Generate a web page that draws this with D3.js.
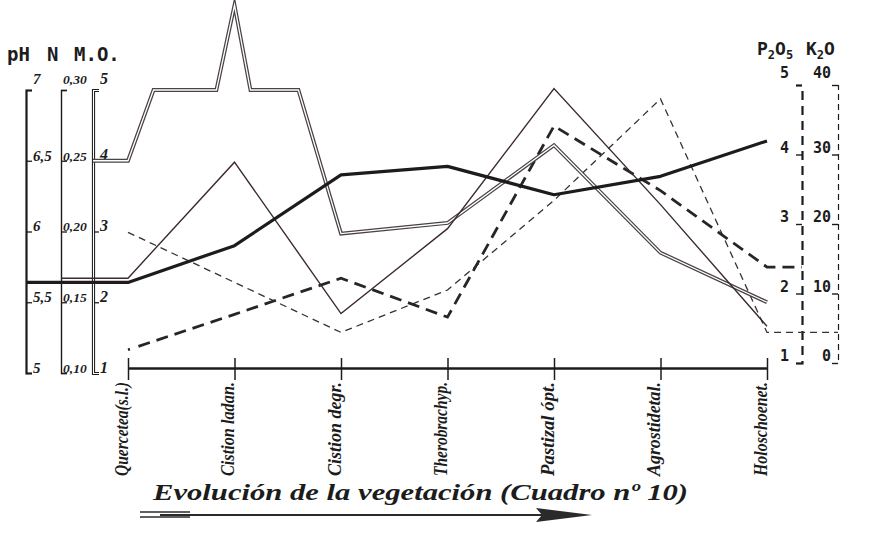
<!DOCTYPE html>
<html>
<head>
<meta charset="utf-8">
<script src="https://cdn.jsdelivr.net/npm/d3@7"></script>
<style>
  body { margin: 0; background: #fff; }
  svg { display: block; }
</style>
</head>
<body>
<svg id="chart" width="869" height="551"></svg>
<script>
// Vegetation stages along the succession
const categories = ["Quercetea(s.l.)", "Cistion ladan.", "Cistion degr.", "Therobrachyp.",
                    "Pastizal ópt.", "Agrostidetal.", "Holoschoenet."];

// Soil measurements per stage
const phValues   = [5.64, 5.90, 6.40, 6.46, 6.26, 6.39, 6.64];
const nValues    = [0.167, 0.249, 0.142, 0.202, 0.301, 0.219, 0.133];
const p2o5Values = [1.19, 1.70, 2.22, 1.66, 4.41, 3.48, 2.38];
const k2oValues  = [18.8, 11.6, 4.4, 10.5, 23.4, 38.0, 4.4];

// Organic matter trace: vertices at (fractional) stage positions
const moPositions = [0, 0.24, 0.83, 1, 1.15, 1.6, 2, 3, 4, 5, 6];
const moValues    = [4.0, 5.0, 5.0, 6.2, 5.0, 5.0, 2.97, 3.12, 4.22, 2.70, 2.0];

// Axis ticks and their labels
const phTicks = [5, 5.5, 6, 6.5, 7];
const phTickLabels = ["5", "5,5", "6", "6,5", "7"];
const nTicks = [0.10, 0.15, 0.20, 0.25, 0.30];
const nTickLabels = ["0,10", "0,15", "0,20", "0,25", "0,30"];
const moTicks = [1, 2, 3, 4, 5];
const moTickLabels = ["1", "2", "3", "4", "5"];
const p2o5Ticks = [1, 2, 3, 4, 5];
const p2o5TickLabels = ["1", "2", "3", "4", "5"];
const k2oTicks = [0, 10, 20, 30, 40];
const k2oTickLabels = ["0", "10", "20", "30", "40"];

const title = "Evolución de la vegetación (Cuadro nº 10)";

const svg = d3.select("#chart");
const ink = "#1c1c1c";
const handFont = "'Liberation Serif', serif";
const letterFont = "'DejaVu Sans Mono', monospace";

// Scales
const x = d3.scaleLinear().domain([0, categories.length - 1]).range([128, 767]);
const yPH = d3.scaleLinear().domain([5, 7]).range([373, 90]);
const yN  = d3.scaleLinear().domain([0.10, 0.30]).range([373, 90]);
const yMO = d3.scaleLinear().domain([1, 5]).range([373, 90]);
const yP  = d3.scaleLinear().domain([1, 5]).range([363, 85]);
const yK  = d3.scaleLinear().domain([0, 40]).range([363, 85]);

const axisX = { ph: 26, n: 61, mo: 93, p: 802, k: 838 };

// ---------- vertical value axes ----------
function leftAxis(scale, ticks, labels, xPos, textX, opts) {
  const g = svg.append("g").attr("transform", `translate(${xPos},0)`)
    .call(d3.axisRight(scale).tickValues(ticks)
      .tickFormat((d, i) => labels[i]).tickSizeInner(6).tickSizeOuter(6));
  g.select(".domain").attr("stroke", ink).attr("stroke-width", opts.width).attr("fill", "none");
  g.selectAll(".tick line").attr("stroke", ink).attr("stroke-width", 1.3);
  g.selectAll(".tick text")
    .attr("x", textX).attr("dy", "-0.05em")
    .attr("fill", ink)
    .style("font-family", handFont).style("font-style", "italic").style("font-weight", "bold")
    .style("font-size", opts.fontSize + "px");
  g.selectAll(".tick").filter(d => d === ticks[ticks.length - 1])
    .select("text").attr("y", -6);
  if (opts.double) {
    g.append("path").attr("d", g.select(".domain").attr("d"))
      .attr("fill", "none").attr("stroke", "#fff").attr("stroke-width", 1.1);
  }
  return g;
}

function rightAxis(scale, ticks, labels, xPos, textX, opts) {
  const g = svg.append("g").attr("transform", `translate(${xPos},0)`)
    .call(d3.axisLeft(scale).tickValues(ticks)
      .tickFormat((d, i) => labels[i]).tickSizeInner(6).tickSizeOuter(6));
  g.select(".domain").attr("stroke", ink).attr("stroke-width", opts.width)
    .attr("fill", "none").attr("stroke-dasharray", opts.dash);
  g.selectAll(".tick line").attr("stroke", ink).attr("stroke-width", 1.4);
  g.selectAll(".tick text")
    .attr("x", textX).attr("dy", "-0.15em")
    .attr("fill", ink)
    .style("font-family", letterFont).style("font-weight", "bold")
    .style("font-size", "15px");
  g.selectAll(".tick").filter(d => d === ticks[ticks.length - 1])
    .select("text").attr("y", -5);
  return g;
}

leftAxis(yPH, phTicks, phTickLabels, axisX.ph, 7, { width: 2.2, fontSize: 15 });
leftAxis(yN, nTicks, nTickLabels, axisX.n, 2, { width: 1.4, fontSize: 13.5 });
leftAxis(yMO, moTicks, moTickLabels, axisX.mo, 7, { width: 3.2, fontSize: 16, double: true });
rightAxis(yP, p2o5Ticks, p2o5TickLabels, axisX.p, -13, { width: 2.2, dash: "9,6" });
rightAxis(yK, k2oTicks, k2oTickLabels, axisX.k, -7, { width: 1.2, dash: "6,4" });

// Axis headings
const headStyle = sel => sel.attr("fill", ink)
  .style("font-family", letterFont).style("font-weight", "bold").style("font-size", "19px");
svg.append("text").attr("x", 7).attr("y", 61).text("pH").call(headStyle);
svg.append("text").attr("x", 47).attr("y", 61).text("N").call(headStyle);
svg.append("text").attr("x", 74).attr("y", 61).text("M.O.").call(headStyle);

function chemLabel(xPos, parts) {
  const t = svg.append("text").attr("x", xPos).attr("y", 55).call(headStyle);
  parts.forEach((p, i) => {
    t.append("tspan").text(p[0])
      .attr("dy", p[1] ? 4 : (i > 0 ? -4 : 0))
      .style("font-size", p[1] ? "12px" : "18px");
  });
}
chemLabel(757, [["P", false], ["2", true], ["O", false], ["5", true]]);
chemLabel(806, [["K", false], ["2", true], ["O", false]]);

// ---------- stage axis ----------
const xAxis = svg.append("g").attr("transform", "translate(0,368)")
  .call(d3.axisBottom(x).tickValues(d3.range(categories.length))
    .tickFormat(i => categories[i]).tickSizeInner(12).tickSizeOuter(0));
xAxis.select(".domain").attr("stroke", ink).attr("stroke-width", 2.6);
xAxis.selectAll(".tick line").attr("y1", -10).attr("y2", 12)
  .attr("stroke", ink).attr("stroke-width", 1.5);
xAxis.selectAll(".tick text")
  .attr("transform", "rotate(-90)")
  .attr("x", -14).attr("y", 0).attr("dy", "-0.05em")
  .attr("text-anchor", "end")
  .attr("fill", ink)
  .attr("textLength", 94).attr("lengthAdjust", "spacingAndGlyphs")
  .style("font-family", handFont).style("font-style", "italic").style("font-weight", "bold")
  .style("font-size", "19px");

// ---------- data lines ----------
const line = d3.line();
const ptsOf = (vals, scale) => vals.map((v, i) => [x(i), scale(v)]);

// K2O: thin dashed, runs out to its own axis on the right
const kPts = ptsOf(k2oValues, yK);
kPts.push([axisX.k, kPts[kPts.length - 1][1]]);
svg.append("path").attr("d", line(kPts)).attr("fill", "none")
  .attr("stroke", "#333").attr("stroke-width", 1.3).attr("stroke-dasharray", "7,5");

// P2O5: heavy dashed, runs out to its own axis on the right
const pPts = ptsOf(p2o5Values, yP);
pPts.push([axisX.p, pPts[pPts.length - 1][1]]);
const pDash = [2, 9].concat(d3.range(60).flatMap(() => [12, 7]));
svg.append("path").attr("d", line(pPts)).attr("fill", "none")
  .attr("stroke", "#262626").attr("stroke-width", 2.8)
  .attr("stroke-dasharray", pDash.join(","));

// M.O.: double line starting from its axis
const moPts = moValues.map((v, i) => [x(moPositions[i]), yMO(v)]);
moPts.unshift([axisX.mo, moPts[0][1]]);
svg.append("path").attr("d", line(moPts)).attr("fill", "none")
  .attr("stroke", "#4a4244").attr("stroke-width", 3.8)
  .attr("stroke-linejoin", "miter").attr("stroke-miterlimit", 30);
svg.append("path").attr("d", line(moPts)).attr("fill", "none")
  .attr("stroke", "#fff").attr("stroke-width", 1.3)
  .attr("stroke-linejoin", "miter").attr("stroke-miterlimit", 30);

// N: thin solid line starting from its axis
const nPts = ptsOf(nValues, yN);
nPts.unshift([axisX.n, nPts[0][1]]);
svg.append("path").attr("d", line(nPts)).attr("fill", "none")
  .attr("stroke", "#3d2a30").attr("stroke-width", 1.4);

// pH: heavy solid line starting from its axis
const phPts = ptsOf(phValues, yPH);
phPts.unshift([axisX.ph, phPts[0][1]]);
svg.append("path").attr("d", line(phPts)).attr("fill", "none")
  .attr("stroke", ink).attr("stroke-width", 3.2).attr("stroke-linejoin", "round");

// ---------- caption and arrow ----------
svg.append("text").attr("x", 153).attr("y", 500)
  .attr("textLength", 535).attr("lengthAdjust", "spacingAndGlyphs")
  .attr("fill", ink)
  .style("font-family", handFont).style("font-style", "italic").style("font-weight", "bold")
  .style("font-size", "24px")
  .text(title);

const arrow = svg.append("g").attr("stroke", "#2a2a2a").attr("fill", "none");
arrow.append("line").attr("x1", 140).attr("x2", 190).attr("y1", 512).attr("y2", 512).attr("stroke-width", 1.6);
arrow.append("line").attr("x1", 140).attr("x2", 190).attr("y1", 517).attr("y2", 517).attr("stroke-width", 1.6);
arrow.append("line").attr("x1", 160).attr("x2", 545).attr("y1", 515).attr("y2", 515).attr("stroke-width", 2);
svg.append("path").attr("d", "M536,508 L592,515 L536,522 L542,515 Z").attr("fill", "#2a2a2a");
</script>
</body>
</html>
